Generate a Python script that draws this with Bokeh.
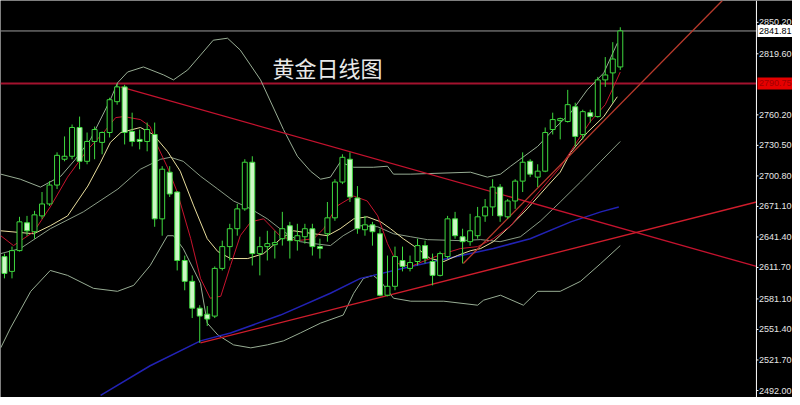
from bokeh.plotting import figure
from bokeh.models import Label, Span, ColumnDataSource
from bokeh.embed import file_html
from bokeh.resources import INLINE
from bokeh.core.properties import value

# ---------------- data ----------------
opens = [2622.3, 2607.9, 2628.1, 2655.2, 2646.5, 2661.9, 2673.5, 2691.9, 2717.0, 2719.9,
         2747.9, 2715.0, 2734.3, 2733.4, 2743.0, 2773.0, 2787.4, 2744.0, 2736.3, 2734.3,
         2741.1, 2659.0, 2704.4, 2685.1, 2618.5, 2598.2, 2572.1, 2566.3, 2564.4, 2610.8,
         2632.0, 2649.4, 2668.7, 2714.1, 2625.2, 2632.0, 2633.9, 2639.7, 2652.3, 2637.8,
         2641.6, 2649.4, 2632.0, 2644.5, 2660.0, 2694.8, 2717.0, 2679.3, 2648.4, 2653.2,
         2644.5, 2584.7, 2593.4, 2618.5, 2610.8, 2617.5, 2633.0, 2617.5, 2604.0, 2622.3,
         2659.0, 2641.6, 2636.8, 2642.6, 2661.9, 2670.6, 2689.9, 2661.0, 2676.4, 2695.7,
         2715.0, 2699.6, 2705.4, 2745.9, 2754.6, 2753.7, 2768.1, 2741.1, 2762.3, 2758.5,
         2794.2, 2801.0, 2806.8]
highs = [2625.2, 2632.0, 2661.0, 2661.9, 2666.8, 2685.1, 2695.7, 2723.7, 2739.2, 2750.8,
         2758.5, 2743.0, 2748.8, 2744.0, 2776.8, 2790.3, 2789.4, 2762.3, 2745.9, 2752.7,
         2752.7, 2710.2, 2710.2, 2686.1, 2623.3, 2604.0, 2575.0, 2574.1, 2612.7, 2637.8,
         2654.2, 2673.5, 2717.0, 2719.9, 2641.6, 2647.4, 2647.4, 2665.8, 2656.1, 2654.2,
         2654.2, 2654.2, 2639.7, 2675.4, 2697.6, 2721.8, 2723.7, 2690.9, 2661.9, 2656.1,
         2649.4, 2623.3, 2632.0, 2632.0, 2623.3, 2639.7, 2637.8, 2625.2, 2627.2, 2661.9,
         2665.8, 2649.4, 2663.9, 2670.6, 2678.3, 2697.6, 2692.8, 2678.3, 2697.6, 2723.7,
         2717.0, 2712.1, 2747.9, 2762.3, 2757.5, 2784.5, 2772.0, 2765.2, 2765.2, 2797.1,
         2816.4, 2830.9, 2845.4]
lows = [2601.1, 2601.1, 2627.2, 2642.6, 2639.7, 2659.0, 2671.6, 2688.0, 2715.0, 2717.0,
        2707.3, 2712.1, 2717.0, 2721.8, 2738.2, 2770.1, 2731.4, 2729.5, 2726.6, 2724.7,
        2651.3, 2642.6, 2680.3, 2608.8, 2589.5, 2562.5, 2538.3, 2554.8, 2562.5, 2608.8,
        2618.5, 2642.6, 2666.8, 2613.6, 2604.0, 2618.5, 2620.4, 2633.0, 2620.4, 2628.1,
        2634.9, 2623.3, 2620.4, 2636.8, 2657.1, 2692.8, 2675.4, 2644.5, 2642.6, 2632.9,
        2583.7, 2583.7, 2589.5, 2607.9, 2607.9, 2613.6, 2615.6, 2594.3, 2603.0, 2620.4,
        2639.7, 2615.6, 2632.9, 2639.7, 2656.1, 2661.9, 2656.1, 2659.0, 2668.7, 2685.1,
        2699.6, 2689.9, 2704.4, 2741.1, 2736.3, 2752.7, 2729.5, 2736.3, 2752.7, 2757.5,
        2787.4, 2772.0, 2803.9]
closes = [2605.9, 2628.1, 2656.1, 2647.4, 2662.9, 2673.5, 2691.9, 2720.8, 2719.9, 2747.9,
          2715.0, 2734.3, 2745.9, 2743.0, 2774.9, 2787.4, 2743.0, 2734.3, 2734.3, 2745.9,
          2659.0, 2707.3, 2683.2, 2618.5, 2598.2, 2572.1, 2564.4, 2561.5, 2610.8, 2632.0,
          2649.4, 2668.7, 2714.1, 2625.2, 2632.0, 2634.9, 2635.9, 2649.4, 2637.8, 2642.6,
          2649.4, 2632.0, 2630.1, 2660.0, 2694.8, 2718.9, 2680.3, 2649.4, 2653.2, 2646.5,
          2584.7, 2593.4, 2622.3, 2612.7, 2616.5, 2633.0, 2620.4, 2604.0, 2625.2, 2659.0,
          2642.6, 2636.8, 2647.4, 2661.0, 2670.6, 2689.9, 2661.9, 2676.4, 2695.7, 2714.1,
          2702.5, 2705.4, 2743.0, 2755.6, 2756.5, 2770.1, 2739.2, 2763.3, 2758.5, 2794.2,
          2799.0, 2814.5, 2841.81]

ma_red_x = [-0.5, 1.2, 3.9, 6.1, 8.4, 11.1, 13.2, 14.8, 15.9, 18.1, 19.4, 20.4, 21.7, 23.0, 24.8,
            26.1, 27.4, 28.8, 30.1, 31.4, 32.8, 34.5, 36.8, 39.0, 41.2, 42.5, 44.3, 46.5, 48.3,
            49.7, 51.0, 52.3, 54.1, 56.7, 58.5, 60.7, 63.0, 65.1, 67.4, 69.6, 72.3, 74.0, 76.0,
            78.0, 80.0, 81.1, 82.0]
ma_red_y = [2642.6, 2633.0, 2646.5, 2670.6, 2699.6, 2726.6, 2743.0, 2757.5, 2758.5, 2755.6,
            2748.8, 2729.5, 2709.2, 2685.1, 2639.7, 2601.1, 2581.8, 2583.7, 2613.6, 2642.6,
            2656.1, 2659.0, 2641.6, 2637.8, 2639.7, 2649.4, 2671.6, 2681.2, 2676.4, 2661.9,
            2634.9, 2615.6, 2612.7, 2620.4, 2625.2, 2630.1, 2632.0, 2639.7, 2652.3, 2671.6,
            2694.8, 2709.2, 2731.4, 2753.6, 2770.1, 2787.4, 2801.9]

ma_yel_x = [-0.5, 3.9, 6.1, 8.4, 11.1, 12.8, 14.1, 15.5, 18.1, 19.8, 21.7, 23.4, 25.2, 27.0, 28.4,
            30.1, 32.4, 34.5, 36.8, 38.5, 41.2, 43.0, 44.7, 46.5, 48.3, 50.1, 51.4, 53.1, 55.0,
            56.7, 58.5, 60.3, 62.1, 63.4, 65.1, 67.4, 69.6, 72.3, 74.0, 75.4, 77.6, 79.8, 81.6]
ma_yel_y = [2647.4, 2644.5, 2652.3, 2661.9, 2690.9, 2714.1, 2733.4, 2743.0, 2747.9, 2741.1,
            2724.7, 2705.4, 2671.6, 2639.7, 2627.2, 2620.4, 2620.4, 2625.2, 2639.7, 2647.4,
            2644.5, 2642.6, 2649.4, 2659.0, 2661.0, 2656.1, 2649.4, 2639.7, 2630.1, 2620.4,
            2617.5, 2623.3, 2628.1, 2630.1, 2636.8, 2652.3, 2668.7, 2690.9, 2704.4, 2723.7,
            2743.0, 2758.5, 2777.8]

bb_mid_x = [-0.5, 2.1, 6.1, 10.5, 15.1, 18.1, 20.8, 22.1, 23.8, 26.1, 28.4, 30.5, 32.8, 35.0,
            37.2, 39.4, 41.2, 43.4, 45.1, 47.4, 49.7, 51.8, 54.1, 56.3, 60.7, 63.4, 66.0, 68.7,
            71.4, 74.0, 76.7, 79.4, 82.0]
bb_mid_y = [2625.2, 2630.1, 2649.4, 2665.8, 2688.0, 2707.3, 2717.0, 2718.9, 2715.0, 2700.5,
            2688.0, 2676.4, 2668.7, 2659.0, 2646.5, 2636.8, 2634.9, 2633.0, 2642.6, 2652.3,
            2651.3, 2644.5, 2641.6, 2638.8, 2637.8, 2638.8, 2636.8, 2641.6, 2657.1, 2675.4,
            2694.8, 2715.0, 2734.3]

bb_up_x = [-0.5, 2.1, 4.8, 7.5, 9.45, 11.45, 14.1, 15.05, 16.4, 18.5, 21.2, 22.5, 24.4, 26.1,
           27.8, 29.7, 31.4, 34.1, 37.15, 39.0, 40.75, 42.1, 43.4, 44.7, 46.5, 49.1, 51.0, 51.8,
           54.1, 62.05, 64.3, 66.05, 67.4, 71.0, 73.1, 75.4, 77.6, 79.8, 81.6]
bb_up_y = [2702.5, 2697.6, 2689.9, 2700.5, 2717.0, 2736.3, 2774.9, 2791.3, 2801.9, 2806.8,
           2799.0, 2794.2, 2803.9, 2818.3, 2832.8, 2834.75, 2823.2, 2794.2, 2745.9, 2719.9,
           2705.4, 2697.6, 2699.6, 2714.1, 2709.2, 2709.2, 2710.2, 2702.5, 2702.5, 2704.4,
           2699.6, 2702.5, 2710.2, 2729.5, 2745.9, 2762.3, 2784.5, 2801.0, 2829.9]

bb_lo_x = [-0.5, 0.8, 3.5, 6.1, 8.4, 11.85, 15.05, 17.2, 19.4, 21.7, 22.5, 23.8, 26.1, 27.0,
           28.4, 30.5, 32.8, 35.0, 37.15, 39.4, 42.1, 45.1, 46.5, 47.8, 49.1, 50.1, 51.8, 54.1,
           58.5, 63.0, 63.8, 66.05, 69.1, 71.0, 74.0, 76.7, 79.4, 82.0]
bb_lo_y = [2533.5, 2552.8, 2588.5, 2608.8, 2604.0, 2591.4, 2588.5, 2594.3, 2613.6, 2642.6,
           2642.6, 2630.1, 2596.3, 2557.6, 2546.1, 2536.4, 2533.5, 2536.4, 2540.3, 2548.0,
           2557.6, 2565.4, 2586.6, 2601.1, 2604.0, 2598.2, 2581.8, 2578.9, 2578.9, 2575.0,
           2579.9, 2584.7, 2575.0, 2588.5, 2588.5, 2598.2, 2615.6, 2633.0]

ma_blue_x = [12.8, 19.4, 26.1, 30.1, 36.75, 43.4, 47.4, 49.1, 54.1, 65.1, 70.0, 75.4, 79.4, 81.8]
ma_blue_y = [2487.2, 2516.1, 2540.3, 2548.0, 2565.4, 2586.6, 2601.1, 2604.0, 2612.7, 2630.1,
             2639.7, 2656.1, 2665.8, 2670.6]

trend_down_x = [15.45, 100.13]
trend_down_y = [2787.4, 2612.7]
trend_up_x = [26.1, 100.13]
trend_up_y = [2538.3, 2675.4]
channel_x = [61.1, 95.6]
channel_y = [2615.6, 2871.4]

resistance_level = 2790.75
last_price = 2841.81
tick_values = [2492.00, 2521.70, 2551.40, 2581.10, 2611.70, 2641.40, 2671.10,
               2700.80, 2730.50, 2760.20, 2819.60, 2850.20]
tick_labels = ["%.2f" % t for t in tick_values]
title_text = "黄金日线图"

# ---------------- layout constants ----------------
X_LEFT, X_RIGHT = -0.53, 104.93          # visible bar-index range
AXIS_X = 100.13                          # bar index where the price scale starts
Y_LOW, Y_HIGH = 2485.2, 2871.44
PX = (X_RIGHT - X_LEFT) / 792.0          # one pixel in index units
PY = (Y_HIGH - Y_LOW) / 397.0            # one pixel in price units

p = figure(width=792, height=397, x_range=(X_LEFT, X_RIGHT), y_range=(Y_LOW, Y_HIGH),
           output_backend="svg", toolbar_location=None, x_axis_location=None,
           y_axis_location=None, background_fill_color="#000000",
           border_fill_color="#000000", min_border=0)
p.grid.visible = False
p.outline_line_color = None

# horizontal levels (stop at the price scale)
p.segment(x0=[X_LEFT], y0=[last_price], x1=[AXIS_X], y1=[last_price],
          line_color="#9c9c9c", line_width=1)
p.segment(x0=[X_LEFT], y0=[resistance_level], x1=[AXIS_X], y1=[resistance_level],
          line_color="#a3122e", line_width=2)

# indicators
p.line(bb_up_x, bb_up_y, line_color="#98ad94", line_width=1)
p.line(bb_lo_x, bb_lo_y, line_color="#98ad94", line_width=1)
p.line(bb_mid_x, bb_mid_y, line_color="#8a9c86", line_width=1)
p.line(ma_blue_x, ma_blue_y, line_color="#2222b4", line_width=1.5)
p.line(ma_yel_x, ma_yel_y, line_color="#e8dd9c", line_width=1)
p.line(ma_red_x, ma_red_y, line_color="#c8142e", line_width=1)

# trend lines
p.line(trend_down_x, trend_down_y, line_color="#c4122e", line_width=1.3)
p.line(trend_up_x, trend_up_y, line_color="#cf1d2c", line_width=1.3)
p.line(channel_x, channel_y, line_color="#b83a2c", line_width=1.3)

# candles
green = "#3ed83e"
idx = list(range(len(opens)))
tops = [max(o, c) for o, c in zip(opens, closes)]
bottoms = [min(o, c) for o, c in zip(opens, closes)]
fills = ["#000000" if c >= o else "#cdf7c6" for o, c in zip(opens, closes)]
src = ColumnDataSource(dict(x=idx, high=highs, low=lows, top=tops, bottom=bottoms, fill=fills))
p.segment(x0="x", y0="low", x1="x", y1="high", line_color=green, line_width=1, source=src)
p.vbar(x="x", width=0.66, top="top", bottom="bottom", fill_color="fill",
       line_color=green, line_width=1, source=src)

# title
p.add_layout(Label(x=35.7, y=2806.75, text=title_text, text_font="Noto Sans CJK SC",
                   text_font_size="22px", text_color="#e8e8e8", text_baseline="middle"))

# ---------------- price scale (right) ----------------
p.add_layout(Span(location=AXIS_X, dimension="height", line_color="#ffffff", line_width=1))
p.segment(x0=[AXIS_X] * len(tick_values), y0=tick_values,
          x1=[AXIS_X + 2 * PX] * len(tick_values), y1=tick_values,
          line_color="#ffffff", line_width=1)
p.text(x=[AXIS_X + 2.5 * PX] * len(tick_values), y=tick_values, text=tick_labels,
       text_font=value("Liberation Sans"), text_font_size="9px", text_color="#e6e6e6",
       text_baseline="middle", text_align="left")

# price boxes
box_levels = [last_price, resistance_level]
box_fill = ["#ffffff", "#e60000"]
box_text_color = ["#000000", "#a00000"]
box_text = ["%.2f" % v for v in box_levels]
p.quad(left=[AXIS_X + 1 * PX] * 2, right=[X_RIGHT + 1] * 2,
       top=[v + 6 * PY for v in box_levels], bottom=[v - 6 * PY for v in box_levels],
       fill_color=box_fill, line_color=None)
p.text(x=[AXIS_X + 2.5 * PX] * 2, y=box_levels, text=box_text,
       text_font=value("Liberation Sans"), text_font_size="9px", text_color=box_text_color,
       text_baseline="middle", text_align="left")

open("out.html", "w").write(file_html(p, INLINE))
